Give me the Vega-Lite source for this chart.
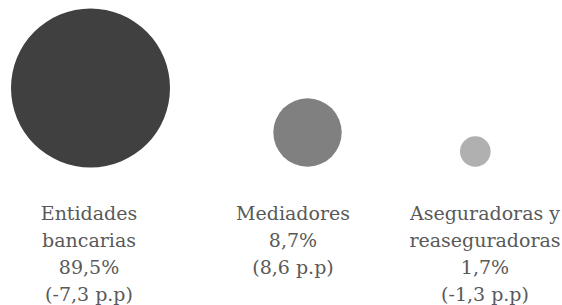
{
  "$schema": "https://vega.github.io/schema/vega-lite/v6.json",
  "width": 562,
  "height": 305,
  "autosize": {"type": "fit", "contains": "padding"},
  "padding": 0,
  "background": "white",
  "config": {"view": {"stroke": null}},
  "data": {
    "values": [
      {"canal": "Entidades bancarias", "nombre": "Entidades\nbancarias", "cuota": 89.5, "cuota_txt": "89,5%", "var_txt": "(-7,3 p.p)"},
      {"canal": "Mediadores", "nombre": "Mediadores", "cuota": 8.7, "cuota_txt": "8,7%", "var_txt": "(8,6 p.p)"},
      {"canal": "Aseguradoras y reaseguradoras", "nombre": "Aseguradoras y\nreaseguradoras", "cuota": 1.7, "cuota_txt": "1,7%", "var_txt": "(-1,3 p.p)"}
    ]
  },
  "layer": [
    {
      "mark": {"type": "circle", "opacity": 1},
      "encoding": {
        "x": {"field": "cuota", "type": "quantitative", "axis": null,
              "scale": {"domain": [1.7, 8.7, 89.5], "range": [475.3, 307.5, 90.5], "zero": false, "nice": false}},
        "y": {"field": "cuota", "type": "quantitative", "axis": null,
              "scale": {"domain": [1.7, 8.7, 89.5], "range": [151.5, 132.5, 88], "zero": false, "nice": false}},
        "size": {"field": "cuota", "type": "quantitative", "legend": null,
                 "scale": {"domain": [1.7, 8.7, 89.5], "range": [936, 4679, 25281], "zero": false, "nice": false}},
        "color": {"field": "canal", "type": "nominal", "legend": null,
                  "scale": {"domain": ["Entidades bancarias", "Mediadores", "Aseguradoras y reaseguradoras"], "range": ["#404040", "#808080", "#b0b0b0"]}}
      }
    },
    {
      "transform": [{"calculate": "datum.nombre + '\\n' + datum.cuota_txt + '\\n' + datum.var_txt", "as": "etiqueta"}],
      "mark": {"type": "text", "font": "DejaVu Serif", "fontSize": 19, "lineHeight": 27, "lineBreak": "\n", "align": "center", "baseline": "alphabetic", "color": "#595959"},
      "encoding": {
        "x": {"field": "cuota", "type": "quantitative", "axis": null,
              "scale": {"domain": [1.7, 8.7, 89.5], "range": [485, 293, 89], "zero": false, "nice": false}},
        "y": {"value": 220},
        "text": {"field": "etiqueta"}
      }
    }
  ],
  "resolve": {"scale": {"x": "independent", "color": "independent"}}
}
